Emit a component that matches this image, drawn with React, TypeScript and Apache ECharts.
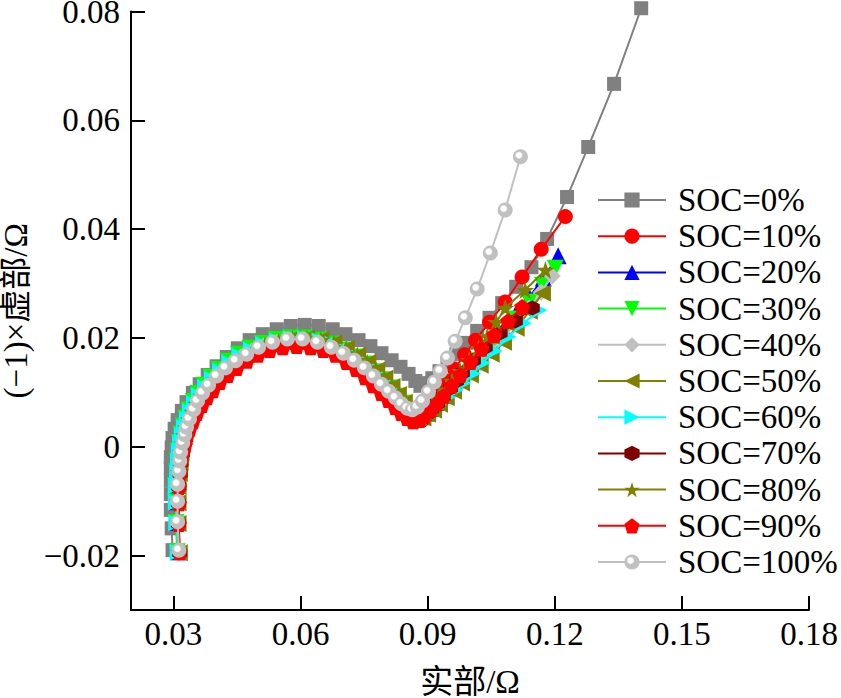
import React, { useEffect, useRef } from "react";
import * as echarts from "echarts";

const seriesNames = ["SOC=0%", "SOC=10%", "SOC=20%", "SOC=30%", "SOC=40%", "SOC=50%", "SOC=60%", "SOC=70%", "SOC=80%", "SOC=90%", "SOC=100%"];

const xTicks = [0.03, 0.06, 0.09, 0.12, 0.15, 0.18];
const yTicks = [-0.02, 0, 0.02, 0.04, 0.06, 0.08];

const soc0 = [[0.0298,-0.0190],[0.0296,-0.0150],[0.0294,-0.0116],[0.0294,-0.0087],[0.0294,-0.0061],[0.0294,-0.0039],[0.0294,-0.0019],[0.0296,-0.0001],[0.0298,0.0016],[0.0303,0.0033],[0.0310,0.0049],[0.0320,0.0066],[0.0331,0.0082],[0.0346,0.0099],[0.0362,0.0115],[0.0381,0.0132],[0.0402,0.0148],[0.0426,0.0165],[0.0452,0.0181],[0.0480,0.0196],[0.0511,0.0207],[0.0544,0.0216],[0.0577,0.0222],[0.0610,0.0224],[0.0643,0.0222],[0.0676,0.0216],[0.0706,0.0207],[0.0737,0.0196],[0.0765,0.0185],[0.0791,0.0172],[0.0815,0.0159],[0.0836,0.0147],[0.0855,0.0134],[0.0871,0.0121],[0.0883,0.0112],[0.0897,0.0117],[0.0911,0.0126],[0.0928,0.0139],[0.0947,0.0154],[0.0968,0.0170],[0.0991,0.0191],[0.1017,0.0213],[0.1046,0.0237],[0.1076,0.0264],[0.1109,0.0294],[0.1145,0.0330],[0.1182,0.0382],[0.1229,0.0459],[0.1279,0.0551],[0.1340,0.0667],[0.1404,0.0806]];

const soc10 = [[0.0314,-0.0195],[0.0311,-0.0141],[0.0311,-0.0103],[0.0312,-0.0073],[0.0315,-0.0049],[0.0317,-0.0030],[0.0319,-0.0012],[0.0322,0.0003],[0.0326,0.0018],[0.0331,0.0032],[0.0338,0.0047],[0.0345,0.0062],[0.0355,0.0076],[0.0366,0.0091],[0.0381,0.0106],[0.0397,0.0121],[0.0416,0.0135],[0.0437,0.0150],[0.0461,0.0163],[0.0487,0.0174],[0.0515,0.0183],[0.0545,0.0190],[0.0578,0.0194],[0.0611,0.0194],[0.0643,0.0190],[0.0673,0.0182],[0.0700,0.0171],[0.0726,0.0158],[0.0749,0.0145],[0.0770,0.0131],[0.0789,0.0116],[0.0806,0.0101],[0.0822,0.0087],[0.0836,0.0074],[0.0850,0.0063],[0.0862,0.0054],[0.0874,0.0050],[0.0885,0.0056],[0.0897,0.0068],[0.0911,0.0082],[0.0928,0.0101],[0.0944,0.0121],[0.0963,0.0143],[0.0987,0.0169],[0.1013,0.0196],[0.1046,0.0229],[0.1083,0.0266],[0.1123,0.0312],[0.1168,0.0363],[0.1225,0.0423]];

const soc20 = [[0.0312,-0.0193],[0.0309,-0.0139],[0.0309,-0.0101],[0.0309,-0.0071],[0.0311,-0.0047],[0.0313,-0.0027],[0.0315,-0.0009],[0.0318,0.0007],[0.0322,0.0022],[0.0327,0.0036],[0.0334,0.0051],[0.0341,0.0066],[0.0351,0.0080],[0.0362,0.0095],[0.0377,0.0110],[0.0393,0.0125],[0.0412,0.0139],[0.0434,0.0154],[0.0458,0.0167],[0.0484,0.0178],[0.0513,0.0187],[0.0544,0.0194],[0.0577,0.0198],[0.0610,0.0198],[0.0644,0.0194],[0.0674,0.0187],[0.0702,0.0176],[0.0728,0.0163],[0.0752,0.0150],[0.0773,0.0136],[0.0792,0.0121],[0.0809,0.0106],[0.0825,0.0092],[0.0839,0.0079],[0.0853,0.0068],[0.0865,0.0058],[0.0877,0.0052],[0.0888,0.0055],[0.0899,0.0062],[0.0914,0.0071],[0.0928,0.0082],[0.0944,0.0095],[0.0961,0.0110],[0.0980,0.0126],[0.1001,0.0145],[0.1024,0.0167],[0.1050,0.0191],[0.1079,0.0216],[0.1109,0.0246],[0.1140,0.0275],[0.1173,0.0310],[0.1208,0.0351]];

const soc30 = [[0.0309,-0.0193],[0.0306,-0.0139],[0.0305,-0.0101],[0.0305,-0.0071],[0.0307,-0.0046],[0.0309,-0.0026],[0.0311,-0.0008],[0.0314,0.0008],[0.0318,0.0023],[0.0323,0.0038],[0.0330,0.0053],[0.0337,0.0068],[0.0347,0.0083],[0.0358,0.0098],[0.0373,0.0113],[0.0389,0.0128],[0.0408,0.0142],[0.0430,0.0157],[0.0454,0.0170],[0.0481,0.0181],[0.0510,0.0190],[0.0542,0.0197],[0.0576,0.0200],[0.0610,0.0200],[0.0645,0.0196],[0.0676,0.0189],[0.0705,0.0178],[0.0731,0.0165],[0.0755,0.0152],[0.0776,0.0138],[0.0795,0.0123],[0.0812,0.0108],[0.0828,0.0093],[0.0842,0.0080],[0.0855,0.0068],[0.0866,0.0058],[0.0877,0.0052],[0.0888,0.0053],[0.0899,0.0060],[0.0914,0.0069],[0.0928,0.0080],[0.0944,0.0093],[0.0961,0.0106],[0.0980,0.0121],[0.1001,0.0137],[0.1024,0.0158],[0.1050,0.0180],[0.1079,0.0205],[0.1109,0.0235],[0.1140,0.0266],[0.1171,0.0297],[0.1201,0.0328]];

const soc40 = [[0.0313,-0.0194],[0.0310,-0.0140],[0.0310,-0.0102],[0.0310,-0.0072],[0.0313,-0.0048],[0.0315,-0.0028],[0.0317,-0.0010],[0.0320,0.0005],[0.0324,0.0020],[0.0329,0.0034],[0.0336,0.0049],[0.0343,0.0064],[0.0353,0.0078],[0.0364,0.0093],[0.0379,0.0108],[0.0395,0.0123],[0.0414,0.0137],[0.0435,0.0152],[0.0459,0.0165],[0.0485,0.0176],[0.0513,0.0185],[0.0544,0.0192],[0.0577,0.0196],[0.0610,0.0196],[0.0643,0.0192],[0.0673,0.0185],[0.0701,0.0174],[0.0727,0.0161],[0.0751,0.0148],[0.0772,0.0134],[0.0791,0.0119],[0.0808,0.0104],[0.0824,0.0090],[0.0838,0.0077],[0.0852,0.0066],[0.0864,0.0056],[0.0876,0.0051],[0.0888,0.0053],[0.0899,0.0060],[0.0914,0.0069],[0.0928,0.0078],[0.0944,0.0091],[0.0961,0.0104],[0.0980,0.0119],[0.1001,0.0135],[0.1024,0.0154],[0.1050,0.0176],[0.1079,0.0200],[0.1109,0.0227],[0.1140,0.0255],[0.1168,0.0284],[0.1194,0.0314]];

const soc50 = [[0.0314,-0.0195],[0.0311,-0.0141],[0.0311,-0.0103],[0.0311,-0.0073],[0.0314,-0.0049],[0.0316,-0.0029],[0.0318,-0.0011],[0.0321,0.0004],[0.0325,0.0019],[0.0330,0.0033],[0.0337,0.0048],[0.0344,0.0063],[0.0354,0.0077],[0.0365,0.0092],[0.0380,0.0107],[0.0396,0.0122],[0.0415,0.0137],[0.0436,0.0152],[0.0460,0.0165],[0.0487,0.0177],[0.0515,0.0186],[0.0547,0.0194],[0.0580,0.0199],[0.0614,0.0200],[0.0648,0.0197],[0.0679,0.0191],[0.0708,0.0181],[0.0735,0.0168],[0.0759,0.0155],[0.0780,0.0141],[0.0799,0.0126],[0.0816,0.0111],[0.0831,0.0096],[0.0845,0.0082],[0.0858,0.0070],[0.0869,0.0059],[0.0879,0.0053],[0.0889,0.0053],[0.0900,0.0060],[0.0914,0.0067],[0.0928,0.0078],[0.0944,0.0090],[0.0961,0.0102],[0.0980,0.0117],[0.1001,0.0132],[0.1024,0.0150],[0.1050,0.0170],[0.1079,0.0192],[0.1109,0.0218],[0.1140,0.0249],[0.1171,0.0282]];

const soc60 = [[0.0311,-0.0194],[0.0308,-0.0140],[0.0307,-0.0102],[0.0307,-0.0072],[0.0310,-0.0048],[0.0312,-0.0028],[0.0314,-0.0010],[0.0317,0.0006],[0.0321,0.0021],[0.0326,0.0035],[0.0333,0.0050],[0.0340,0.0065],[0.0350,0.0079],[0.0361,0.0094],[0.0376,0.0109],[0.0392,0.0124],[0.0411,0.0139],[0.0433,0.0154],[0.0457,0.0167],[0.0484,0.0178],[0.0513,0.0188],[0.0545,0.0195],[0.0578,0.0199],[0.0612,0.0199],[0.0646,0.0195],[0.0677,0.0188],[0.0705,0.0177],[0.0731,0.0164],[0.0755,0.0151],[0.0776,0.0137],[0.0795,0.0122],[0.0812,0.0107],[0.0828,0.0093],[0.0842,0.0080],[0.0855,0.0068],[0.0866,0.0057],[0.0873,0.0049],[0.0885,0.0053],[0.0899,0.0060],[0.0914,0.0069],[0.0930,0.0080],[0.0947,0.0091],[0.0965,0.0104],[0.0984,0.0117],[0.1006,0.0134],[0.1029,0.0154],[0.1057,0.0176],[0.1090,0.0202],[0.1126,0.0227],[0.1163,0.0251]];

const soc70 = [[0.0315,-0.0195],[0.0312,-0.0141],[0.0312,-0.0103],[0.0313,-0.0073],[0.0316,-0.0049],[0.0318,-0.0029],[0.0321,-0.0012],[0.0324,0.0002],[0.0329,0.0016],[0.0334,0.0030],[0.0341,0.0045],[0.0348,0.0059],[0.0358,0.0073],[0.0369,0.0088],[0.0384,0.0103],[0.0400,0.0118],[0.0419,0.0132],[0.0440,0.0147],[0.0463,0.0160],[0.0489,0.0171],[0.0516,0.0180],[0.0546,0.0187],[0.0578,0.0191],[0.0610,0.0191],[0.0641,0.0187],[0.0670,0.0180],[0.0698,0.0169],[0.0724,0.0156],[0.0748,0.0143],[0.0769,0.0129],[0.0788,0.0114],[0.0805,0.0099],[0.0821,0.0085],[0.0836,0.0072],[0.0849,0.0061],[0.0861,0.0052],[0.0873,0.0047],[0.0885,0.0053],[0.0897,0.0060],[0.0909,0.0069],[0.0923,0.0080],[0.0937,0.0093],[0.0954,0.0108],[0.0968,0.0121],[0.0982,0.0136],[0.1008,0.0159],[0.1036,0.0183],[0.1071,0.0209],[0.1107,0.0231],[0.1147,0.0255]];

const soc80 = [[0.0313,-0.0193],[0.0311,-0.0140],[0.0310,-0.0101],[0.0311,-0.0072],[0.0313,-0.0047],[0.0316,-0.0027],[0.0318,-0.0010],[0.0321,0.0006],[0.0325,0.0021],[0.0330,0.0035],[0.0337,0.0050],[0.0345,0.0064],[0.0354,0.0079],[0.0366,0.0093],[0.0380,0.0108],[0.0397,0.0123],[0.0416,0.0138],[0.0437,0.0152],[0.0461,0.0165],[0.0487,0.0177],[0.0516,0.0186],[0.0548,0.0193],[0.0581,0.0198],[0.0615,0.0199],[0.0648,0.0196],[0.0679,0.0190],[0.0708,0.0180],[0.0734,0.0168],[0.0758,0.0154],[0.0779,0.0140],[0.0798,0.0125],[0.0815,0.0110],[0.0830,0.0095],[0.0844,0.0081],[0.0857,0.0069],[0.0868,0.0059],[0.0877,0.0052],[0.0885,0.0056],[0.0897,0.0066],[0.0911,0.0077],[0.0925,0.0090],[0.0942,0.0104],[0.0958,0.0121],[0.0977,0.0139],[0.0998,0.0159],[0.1020,0.0181],[0.1041,0.0203],[0.1062,0.0229],[0.1083,0.0255],[0.1130,0.0288],[0.1178,0.0325]];

const soc90 = [[0.0315,-0.0194],[0.0313,-0.0142],[0.0313,-0.0104],[0.0313,-0.0074],[0.0315,-0.0050],[0.0317,-0.0030],[0.0322,-0.0012],[0.0327,0.0003],[0.0331,0.0018],[0.0338,0.0033],[0.0346,0.0047],[0.0355,0.0062],[0.0367,0.0077],[0.0379,0.0091],[0.0393,0.0104],[0.0409,0.0119],[0.0428,0.0132],[0.0449,0.0145],[0.0473,0.0158],[0.0499,0.0169],[0.0527,0.0178],[0.0558,0.0183],[0.0591,0.0185],[0.0624,0.0183],[0.0654,0.0178],[0.0683,0.0169],[0.0709,0.0156],[0.0732,0.0143],[0.0753,0.0128],[0.0772,0.0113],[0.0791,0.0099],[0.0808,0.0086],[0.0824,0.0073],[0.0838,0.0062],[0.0852,0.0053],[0.0866,0.0047],[0.0881,0.0049],[0.0892,0.0056],[0.0907,0.0068],[0.0921,0.0079],[0.0937,0.0093],[0.0956,0.0112],[0.0977,0.0132],[0.1001,0.0156],[0.1027,0.0180],[0.1057,0.0205],[0.1090,0.0231],[0.1123,0.0257]];

const soc100 = [[0.0313,-0.0190],[0.0310,-0.0138],[0.0310,-0.0100],[0.0310,-0.0069],[0.0313,-0.0045],[0.0315,-0.0026],[0.0317,-0.0010],[0.0322,0.0007],[0.0327,0.0022],[0.0331,0.0036],[0.0338,0.0051],[0.0348,0.0068],[0.0357,0.0084],[0.0369,0.0099],[0.0383,0.0113],[0.0402,0.0130],[0.0423,0.0145],[0.0447,0.0158],[0.0473,0.0170],[0.0501,0.0183],[0.0534,0.0192],[0.0569,0.0198],[0.0605,0.0198],[0.0640,0.0192],[0.0673,0.0183],[0.0701,0.0172],[0.0727,0.0159],[0.0751,0.0145],[0.0772,0.0130],[0.0791,0.0115],[0.0808,0.0102],[0.0824,0.0090],[0.0838,0.0079],[0.0852,0.0071],[0.0864,0.0068],[0.0876,0.0073],[0.0888,0.0084],[0.0902,0.0101],[0.0916,0.0119],[0.0930,0.0139],[0.0947,0.0163],[0.0965,0.0194],[0.0989,0.0237],[0.1017,0.0290],[0.1048,0.0356],[0.1083,0.0435],[0.1119,0.0533]];

const seriesData = [soc0, soc10, soc20, soc30, soc40, soc50, soc60, soc70, soc80, soc90, soc100];

const seriesColors = ["#808080", "#FF0000", "#0000FF", "#00FF00", "#C0C0C0", "#808000", "#00FFFF", "#800000", "#808000", "#FF0000", "#C0C0C0"];

const HEX = "path://M50,0L93.3,25L93.3,75L50,100L6.7,75L6.7,25Z";
const STAR = "path://M50,0L61.8,35.4L99,35.4L69,57.3L80.4,92.7L50,70.8L19.6,92.7L31,57.3L1,35.4L38.2,35.4Z";
const PENT = "path://M50,0L97.6,34.5L79.4,90.5L20.6,90.5L2.4,34.5Z";

const seriesSymbols = ["rect", "circle", "triangle", "triangle", "diamond", "triangle", "triangle", HEX, STAR, PENT, "circle"];
const seriesRotates = [0, 0, 0, 180, 0, 90, -90, 0, 0, 0, 0];
const seriesSizes = [14, 15, 17, 17, 17, 17, 17, 15, 18, 16, 15];

const SERIF = "'Liberation Serif', 'Times New Roman', 'Noto Sans CJK SC', serif";

function fmt(v: number): string {
  if (Math.abs(v) < 1e-9) return "0";
  const s = Math.abs(v).toFixed(2);
  return v < 0 ? "\u2212" + s : s;
}

export default function App() {
  const ref = useRef<HTMLDivElement>(null);
  useEffect(() => {
    document.body.style.margin = "0";
    if (!ref.current) return;
    const chart = echarts.init(ref.current, null, { renderer: "svg" });
    const sphere = new echarts.graphic.RadialGradient(0.4, 0.4, 0.6, [
      { offset: 0, color: "#ffffff" },
      { offset: 0.28, color: "#ffffff" },
      { offset: 0.45, color: "#c0c0c0" },
      { offset: 1, color: "#c0c0c0" },
    ]);
    const series = seriesNames.map((name, i) => ({
      name,
      type: "line",
      data: seriesData[i],
      color: seriesColors[i],
      symbol: seriesSymbols[i],
      symbolSize: seriesSizes[i],
      symbolRotate: seriesRotates[i],
      showSymbol: true,
      clip: false,
      lineStyle: { color: seriesColors[i], width: 2 },
      itemStyle: { color: i === 10 ? sphere : seriesColors[i], borderWidth: 0 },
      emphasis: { disabled: true },
      z: 2 + i,
    }));
    chart.setOption({
      animation: false,
      backgroundColor: "#ffffff",
      grid: { left: 131, right: 32, top: 11.5, bottom: 88, containLabel: false, outerBoundsMode: "none" },
      xAxis: {
        type: "value",
        min: 0.02,
        max: 0.18,
        interval: 0.01,
        name: "实部/Ω",
        nameLocation: "middle",
        nameGap: 55,
        nameTextStyle: { fontFamily: SERIF, fontSize: 33, color: "#000" },
        axisLine: { show: true, onZero: false, lineStyle: { color: "#000", width: 2 } },
        axisTick: { show: true, inside: true, length: 14, lineStyle: { color: "#000", width: 2 }, customValues: xTicks },
        axisLabel: { fontFamily: SERIF, fontSize: 33, color: "#000", margin: 7, customValues: xTicks, formatter: (v: number) => fmt(v) },
        splitLine: { show: false },
      },
      yAxis: {
        type: "value",
        min: -0.03,
        max: 0.08,
        interval: 0.01,
        name: "(\u22121)×虚部/Ω",
        nameLocation: "middle",
        nameGap: 85,
        nameRotate: 90,
        nameTextStyle: { fontFamily: SERIF, fontSize: 33, color: "#000", lineHeight: 30 },
        axisLine: { show: true, onZero: false, lineStyle: { color: "#000", width: 2 } },
        axisTick: { show: true, inside: true, length: 14, lineStyle: { color: "#000", width: 2 }, customValues: yTicks },
        axisLabel: { fontFamily: SERIF, fontSize: 33, color: "#000", margin: 11, lineHeight: 22, customValues: yTicks, formatter: (v: number) => fmt(v) },
        splitLine: { show: false },
      },
      legend: {
        orient: "vertical",
        left: 597,
        top: 182,
        padding: 0,
        itemGap: 0.2,
        itemWidth: 68,
        itemHeight: 19,
        selectedMode: false,
        textStyle: { fontFamily: SERIF, fontSize: 33, color: "#000", lineHeight: 36, padding: [0, 0, 0, 7] },
        data: seriesNames,
      },
      series,
    });
    return () => chart.dispose();
  }, []);
  return <div ref={ref} style={{ width: 841, height: 698 }} />;
}
